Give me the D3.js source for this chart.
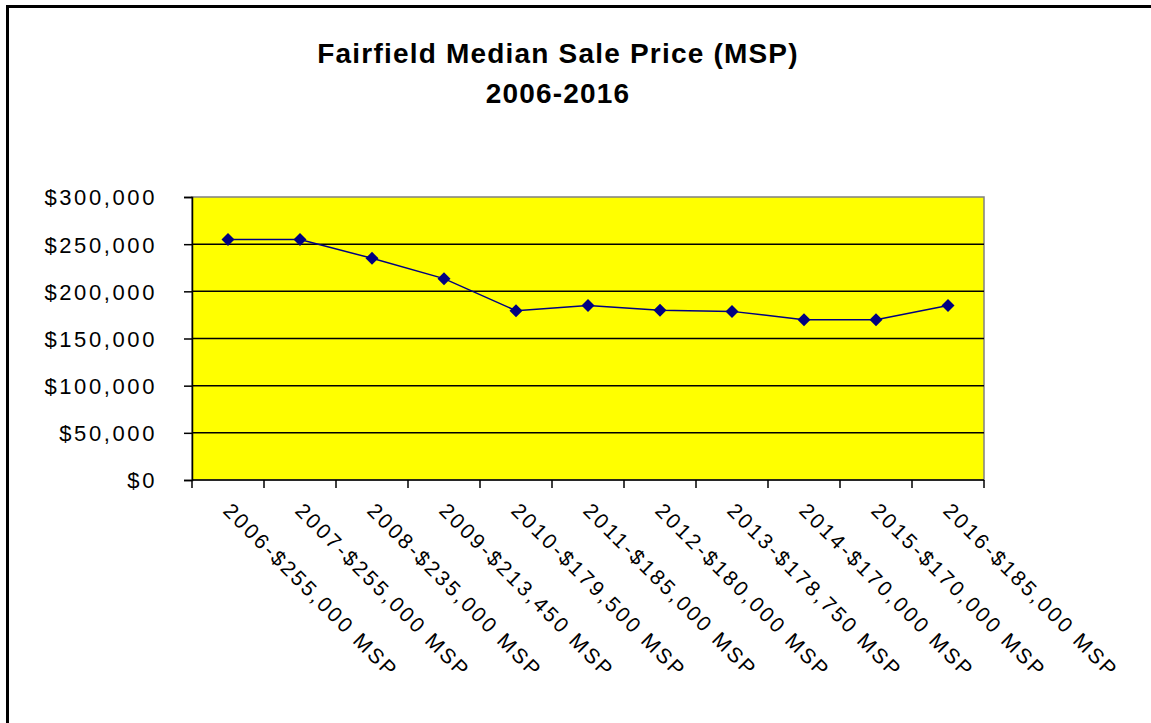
<!DOCTYPE html>
<html>
<head lang="en">
    <meta charset="utf-8">
    <title>Fairfield Median Sale Price (MSP)</title>
    <style type="text/css">
        body {
            margin: 0;
            background-color: #fff;
        }

        text {
            font-family: Arial, "Liberation Sans", sans-serif;
            fill: #000;
        }

        .title {
            font-size: 28px;
            font-weight: bold;
            letter-spacing: 1.2px;
        }

        .ylab {
            font-size: 22px;
            letter-spacing: 2.6px;
        }

        .xlab {
            font-size: 21px;
            letter-spacing: 2.6px;
        }
    </style>
</head>
<body>

<script src="https://cdn.jsdelivr.net/npm/d3@7"></script>
<script type="text/javascript">
    // data
    var years = ["2006", "2007", "2008", "2009", "2010", "2011", "2012", "2013", "2014", "2015", "2016"];
    var prices = [255000, 255000, 235000, 213450, 179500, 185000, 180000, 178750, 170000, 170000, 185000];
    var tickLabels = ["2006-$255,000 MSP", "2007-$255,000 MSP", "2008-$235,000 MSP", "2009-$213,450 MSP",
        "2010-$179,500 MSP", "2011-$185,000 MSP", "2012-$180,000 MSP", "2013-$178,750 MSP",
        "2014-$170,000 MSP", "2015-$170,000 MSP", "2016-$185,000 MSP"];
    var yTicks = [0, 50000, 100000, 150000, 200000, 250000, 300000];

    var W = 1151, H = 723;
    var plot = {left: 192, right: 984, top: 197, bottom: 480};

    var svg = d3.select("body")
        .append("svg")
        .attr("width", W)
        .attr("height", H);

    // outer frame (right and bottom edges run off the picture)
    svg.append("rect")
        .attr("x", 7.5).attr("y", 6.5)
        .attr("width", W + 10).attr("height", H + 10)
        .attr("fill", "none")
        .attr("stroke", "#000")
        .attr("stroke-width", 3);

    // title
    svg.append("text").attr("class", "title")
        .attr("x", 558).attr("y", 63)
        .attr("text-anchor", "middle")
        .text("Fairfield Median Sale Price (MSP)");
    svg.append("text").attr("class", "title")
        .attr("x", 558).attr("y", 103)
        .attr("text-anchor", "middle")
        .text("2006-2016");

    var x = d3.scaleBand()
        .domain(years)
        .range([plot.left, plot.right]);

    var y = d3.scaleLinear()
        .domain([0, 300000])
        .range([plot.bottom, plot.top]);

    // plot background
    svg.append("rect")
        .attr("x", plot.left).attr("y", plot.top)
        .attr("width", plot.right - plot.left)
        .attr("height", plot.bottom - plot.top)
        .attr("fill", "#ffff00")
        .attr("stroke", "#808080")
        .attr("stroke-width", 1.5);

    // gridlines
    svg.selectAll("line.grid")
        .data(yTicks.filter(function (d) { return d > 0 && d < 300000; }))
        .enter()
        .append("line")
        .attr("class", "grid")
        .attr("x1", plot.left).attr("x2", plot.right)
        .attr("y1", function (d) { return y(d); })
        .attr("y2", function (d) { return y(d); })
        .attr("stroke", "#000")
        .attr("stroke-width", 1.5);

    // y axis
    var yAxis = d3.axisLeft(y)
        .tickValues(yTicks)
        .tickSize(8)
        .tickPadding(27)
        .tickFormat(function (d) { return "$" + d3.format(",")(d); });

    var gy = svg.append("g")
        .attr("transform", "translate(" + plot.left + ",0)")
        .call(yAxis);
    gy.select(".domain").attr("stroke", "#000").attr("stroke-width", 1.5);
    gy.selectAll(".tick line").attr("stroke", "#000").attr("stroke-width", 1.5);
    gy.selectAll(".tick text")
        .attr("class", "ylab")
        .attr("dy", "0.36em");
    gy.attr("font-family", null).attr("font-size", null);

    // x axis: ticks at category boundaries
    var bounds = years.map(function (d) { return x(d); }).concat([plot.right]);
    svg.append("line")
        .attr("x1", plot.left).attr("x2", plot.right)
        .attr("y1", plot.bottom).attr("y2", plot.bottom)
        .attr("stroke", "#000").attr("stroke-width", 1.5);
    svg.selectAll("line.xtick")
        .data(bounds)
        .enter()
        .append("line")
        .attr("class", "xtick")
        .attr("x1", function (d) { return d; })
        .attr("x2", function (d) { return d; })
        .attr("y1", plot.bottom).attr("y2", plot.bottom + 8)
        .attr("stroke", "#000").attr("stroke-width", 1.5);

    // rotated category labels
    svg.selectAll("text.xlab")
        .data(years)
        .enter()
        .append("text")
        .attr("class", "xlab")
        .attr("transform", function (d) {
            return "translate(" + (x(d) + x.bandwidth() / 2 - 6) + "," + 512 + ") rotate(45)";
        })
        .text(function (d, i) { return tickLabels[i]; });

    // line + diamond markers
    var line = d3.line()
        .x(function (d, i) { return x(years[i]) + x.bandwidth() / 2; })
        .y(function (d) { return y(d); });

    svg.append("path")
        .datum(prices)
        .attr("d", line)
        .attr("fill", "none")
        .attr("stroke", "#000080")
        .attr("stroke-width", 1.5);

    svg.selectAll("path.marker")
        .data(prices)
        .enter()
        .append("path")
        .attr("class", "marker")
        .attr("d", "M0,-6.5L6.5,0L0,6.5L-6.5,0Z")
        .attr("transform", function (d, i) {
            return "translate(" + (x(years[i]) + x.bandwidth() / 2) + "," + y(d) + ")";
        })
        .attr("fill", "#000080");

</script>
</body>
</html>
